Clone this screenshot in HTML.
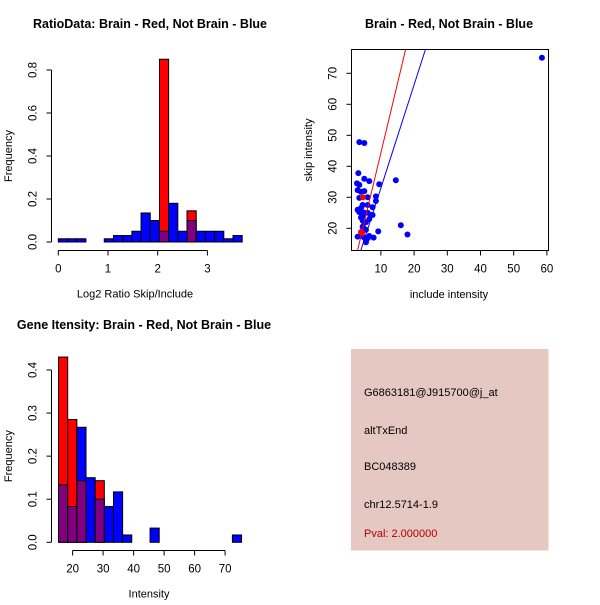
<!DOCTYPE html>
<html><head><meta charset="utf-8"><style>
body{margin:0;background:#fff}
svg text{font-family:"Liberation Sans",sans-serif;}
</style></head><body>
<svg id="c" width="600" height="600" xmlns="http://www.w3.org/2000/svg">
<rect width="600" height="600" fill="#fff"/>
<g id="p1"></g>
<g id="p2"></g>
<g id="p3"></g>
<g id="p4">
<rect x="351" y="349" width="197.5" height="201.5" fill="#e6c8c2"/>
<text x="364" y="396" font-size="11">G6863181@J915700@j_at</text>
<text x="364" y="434" font-size="11">altTxEnd</text>
<text x="364" y="470" font-size="11">BC048389</text>
<text x="364" y="508" font-size="11">chr12.5714-1.9</text>
<text x="364" y="537" font-size="11" fill="#b00000">Pval: 2.000000</text>
</g>
</svg>
<script>
// Panel 1 data
const ratioBinStart = 0, ratioBinWidth = 0.185;
const ratioBlue = [0.015,0.015,0.015,0,0,0.015,0.03,0.03,0.05,0.135,0.1,0.05,0.18,0.05,0.1,0.05,0.05,0.05,0.015,0.03];
const ratioRed  = [0,0,0,0,0,0,0,0,0,0,0,0.85,0,0,0.145,0,0,0,0,0];
const ratioXTicks = [0,1,2,3];
const ratioYTicks = [0,0.2,0.4,0.6,0.8];
// Panel 3 data
const intBinStart = 15.4, intBinWidth = 3.0;
const intBlue = [0.133,0.083,0.267,0.15,0.1,0.083,0.117,0.017,0,0,0.033,0,0,0,0,0,0,0,0,0.017];
const intRed  = [0.43,0.285,0.143,0,0.143,0,0,0,0,0,0,0,0,0,0,0,0,0,0,0];
const intXTicks = [20,30,40,50,60,70];
const intYTicks = [0,0.1,0.2,0.3,0.4];
// Panel 2 data
const blueX = [58.5,3.5,5,3.2,2.8,3.5,5,6.5,9.5,14.5,3,4,5,3.5,6,8.5,8.5,4.5,4,3,3.5,5,6,6,7.5,7.5,4,4.5,5,6.5,5.5,4.5,5,5.5,9.2,16,18,3,4,5,5.5,5.5,6.5,7.8,6,3.2,4.5,7];
const blueY = [75,47.8,47.5,37.8,34.5,34,36,35.2,34.2,35.5,32.3,31.8,32,29.8,30,30.3,28.8,27.5,26.5,26,25.2,25,25,27.5,26.8,24.3,23.5,22.5,21.8,23,22,20.5,19.8,19.5,19,21,18,17.3,17.5,17,16,15.5,17.5,17,16.8,25.7,24,24.3];
const redX = [4,4.3,4.6];
const redY = [18.8,18.4,30];
const redFit = [-0.45,4.48];   // intercept, slope
const blueFit = [-0.3,3.33];
const scXTicks = [10,20,30,40,50,60];
const scYTicks = [20,30,40,50,60,70];

const NS="http://www.w3.org/2000/svg";
function mk(parent,tag,attrs){const e=document.createElementNS(NS,tag);for(const k in attrs)e.setAttribute(k,attrs[k]);parent.appendChild(e);return e;}

function histPanel(g,o){
  const sx=v=>o.x0+(v-o.xmin)*o.kx, sy=v=>o.y0-v*o.ky;
  const t=mk(g,'text',{x:o.tx,y:o.ty,'font-size':12.5,'font-weight':'bold','text-anchor':'middle'});t.textContent=o.title;
  
  
  for(let i=0;i<o.blue.length;i++){
    const a=o.bs+i*o.bw,b=a+o.bw,x=sx(a),w=sx(b)-x;
    const bv=o.blue[i],rv=o.red[i],hi=Math.max(bv,rv),lo=Math.min(bv,rv);
    const col=rv>bv?'#ff0000':'#0000ff';
    const r=mk(g,'rect',{x:x,y:sy(hi),width:w,height:sy(0)-sy(hi),fill:col,stroke:'#000','stroke-width':1});
    
    
    if(lo>0){const p=mk(g,'rect',{x:x,y:sy(lo),width:w,height:sy(0)-sy(lo),fill:'#800080',stroke:'#000','stroke-width':1});
      
      }
  }
  const ya=mk(g,'line',{x1:o.ax,x2:o.ax,y1:sy(o.yt[0]),y2:sy(o.yt[o.yt.length-1]),stroke:'#000'});
  
  
  o.yt.forEach(v=>{mk(g,'line',{x1:o.ax-5,x2:o.ax,y1:sy(v),y2:sy(v),stroke:'#000'});
    const lx=o.ax-15;
    const tt=mk(g,'text',{x:lx,y:sy(v),'font-size':11.5,'text-anchor':'middle',transform:`rotate(-90 ${lx} ${sy(v)})`});tt.textContent=v.toFixed(1);
    
    });
  const xa=mk(g,'line',{x1:sx(o.xt[0]),x2:sx(o.xt[o.xt.length-1]),y1:o.ay,y2:o.ay,stroke:'#000'});
  
  
  o.xt.forEach(v=>{mk(g,'line',{x1:sx(v),x2:sx(v),y1:o.ay,y2:o.ay+5,stroke:'#000'});
    const tt=mk(g,'text',{x:sx(v),y:o.ay+22,'font-size':11.5,'text-anchor':'middle'});tt.textContent=v;
    
    });
  const xl=mk(g,'text',{x:o.xlx,y:o.ay+47,'font-size':11,'text-anchor':'middle'});xl.textContent=o.xlab;
  
  
  const yc=(sy(o.yt[0])+sy(o.yt[o.yt.length-1]))/2;
  const yl=mk(g,'text',{x:12,y:yc,'font-size':11,'text-anchor':'middle',transform:`rotate(-90 12 ${yc})`});yl.textContent='Frequency';
  
  
}

histPanel(document.getElementById('p1'),{title:'RatioData: Brain - Red, Not Brain - Blue',tx:150,ty:28,
  x0:58.3,xmin:0,kx:49.7,y0:242,ky:215,bs:ratioBinStart,bw:ratioBinWidth,blue:ratioBlue,red:ratioRed,
  xt:ratioXTicks,yt:ratioYTicks,ax:51.5,ay:250.5,xlab:'Log2 Ratio Skip/Include',xlx:135});
histPanel(document.getElementById('p3'),{title:'Gene Itensity: Brain - Red, Not Brain - Blue',tx:144,ty:329,
  x0:11.6,xmin:0,kx:3.05,y0:542.3,ky:430.8,bs:intBinStart,bw:intBinWidth,blue:intBlue,red:intRed,
  xt:intXTicks,yt:intYTicks,ax:51.5,ay:550.5,xlab:'Intensity',xlx:149});

// Scatter
(function(){
  const g=document.getElementById('p2');
  const sx=v=>347.7+v*3.32, sy=v=>290.3-v*3.1;
  const L=351.5,R=548.5,T=49.5,B=250.5;
  const t=mk(g,'text',{x:449,y:28,'font-size':12.5,'font-weight':'bold','text-anchor':'middle'});t.textContent='Brain - Red, Not Brain - Blue';
  
  
  const defs=mk(g,'clipPath',{id:'clp'});mk(defs,'rect',{x:L,y:T,width:R-L,height:B-T});
  blueX.forEach((x,i)=>{const c=mk(g,'circle',{cx:sx(x),cy:sy(blueY[i]),r:3,fill:'#0000ff'});
    
    });
  redX.forEach((x,i)=>{const c=mk(g,'circle',{cx:sx(x),cy:sy(redY[i]),r:3,fill:'#ff0000'});
    
    });
  [[redFit,'#ff0000','red-fit-line'],[blueFit,'#0000ff','blue-fit-line']].forEach(([f,col,n])=>{
    const x1=0,x2=40;
    const l=mk(g,'line',{x1:sx(x1),y1:sy(f[0]+f[1]*x1),x2:sx(x2),y2:sy(f[0]+f[1]*x2),stroke:col,'clip-path':'url(#clp)'});
    
    });
  const fr=mk(g,'rect',{x:L,y:T,width:R-L,height:B-T,fill:'none',stroke:'#000'});
  
  
  scXTicks.forEach(v=>{mk(g,'line',{x1:sx(v),x2:sx(v),y1:B,y2:B+5,stroke:'#000'});
    const tt=mk(g,'text',{x:sx(v),y:B+22,'font-size':11.5,'text-anchor':'middle'});tt.textContent=v;
    
    });
  scYTicks.forEach(v=>{mk(g,'line',{x1:L-5,x2:L,y1:sy(v),y2:sy(v),stroke:'#000'});
    const lx=L-15;
    const tt=mk(g,'text',{x:lx,y:sy(v),'font-size':11.5,'text-anchor':'middle',transform:`rotate(-90 ${lx} ${sy(v)})`});tt.textContent=v;
    
    });
  const xl=mk(g,'text',{x:449,y:298,'font-size':11,'text-anchor':'middle'});xl.textContent='include intensity';
  
  
  const yl=mk(g,'text',{x:312,y:150,'font-size':11,'text-anchor':'middle',transform:'rotate(-90 312 150)'});yl.textContent='skip intensity';
  
  
})();
</script>
</body></html>
